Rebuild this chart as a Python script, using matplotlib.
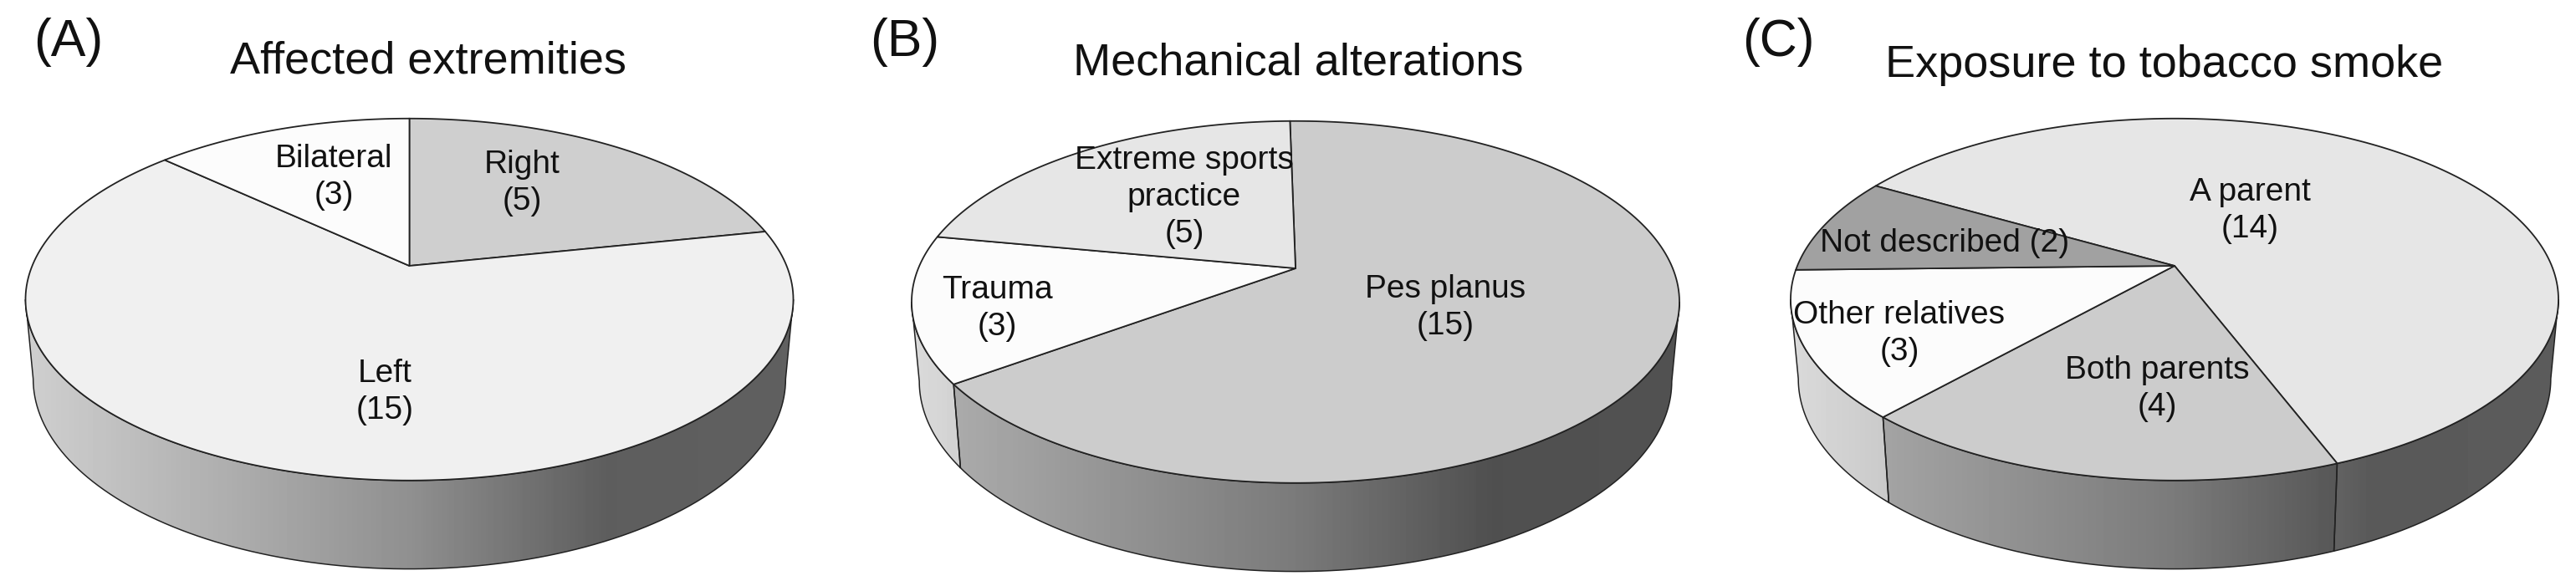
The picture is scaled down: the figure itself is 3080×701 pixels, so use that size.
import numpy as np
import matplotlib
matplotlib.use("Agg")
import matplotlib.pyplot as plt
from matplotlib.patches import Polygon

plt.rcParams['font.family'] = ['Liberation Sans', 'DejaVu Sans']

# Data, clockwise from the first slice
titles = ["Affected extremities", "Mechanical alterations", "Exposure to tobacco smoke"]
panel_tags = ["(A)", "(B)", "(C)"]

names_a = ["Right", "Left", "Bilateral"]
values_a = [5, 15, 3]
names_b = ["Pes planus", "Trauma", "Extreme sports\npractice"]
values_b = [15, 3, 5]
names_c = ["A parent", "Both parents", "Other relatives", "Not described"]
values_c = [14, 4, 3, 2]

# Slice greys (top face)
greys_a = [0.81, 0.94, 0.99]
greys_b = [0.80, 0.99, 0.90]
greys_c = [0.90, 0.80, 0.99, 0.63]

# Layout, in pixels of the 3080x701 picture
start_angles = [0, -1, -60]
apex_x = [489.5, 1549, 2600]
apex_y = [318, 321, 318]
rx_persp = 451
ry_persp = 209
k_persp = 0.186
side_shift = 93
side_sx = 0.98
side_sy = 1.05
vis_from, vis_to = 100.7, 259.3  # part of the rim seen from the front

title_pos = [(512, 88), (1552, 90), (2588, 92)]
tag_pos = [(82, 67), (1082, 67), (2126, 67)]
label_pos_a = [(624, 219), (460, 469), (399, 212)]
label_pos_b = [(1728, 368), (1192, 369), (1416, 236)]
label_pos_c = [(2690, 252), (2579, 465), (2271, 399), (2325, 291)]


def rim(theta_deg):
    t = np.radians(theta_deg)
    w = 1 + k_persp * np.cos(t)
    return rx_persp * np.sin(t) / w, -ry_persp * np.cos(t) / w


def draw_pie(ax, idx, values, names, greys, label_pos):
    cx, cy = apex_x[idx], apex_y[idx]
    edges = start_angles[idx] + np.cumsum([0] + values) / sum(values) * 360

    # side first, the top covers whatever is left over
    for i in range(len(values)):
        a = max(edges[i], vis_from)
        b = min(edges[i + 1], vis_to)
        # a slice may also reach the front through the wrap past 360
        if b <= a and edges[i + 1] - 360 > vis_from:
            a, b = vis_from, min(edges[i + 1] - 360, vis_to)
        if b <= a:
            continue
        th = np.linspace(a, b, 120)
        u, v = rim(th)
        top = np.column_stack([cx + u, cy + v])
        low = np.column_stack([cx + u * side_sx, cy + side_shift + v * side_sy])
        poly = Polygon(np.vstack([top, low[::-1]]), closed=True, fc="none", ec="#222222", lw=1.1, zorder=3)
        ax.add_patch(poly)
        # left to right shading across the whole pie
        xs = np.linspace(0, 1, 300)
        shade = np.interp(xs, [0, 0.5, 0.75, 1], [0.87, 0.60, 0.39, 0.40]) * greys[i]
        x0, x1 = cx - 470, cx + 470
        im = ax.imshow(shade[np.newaxis, :], extent=(x0, x1, 701, 0), cmap="gray", vmin=0, vmax=1,
                       aspect="auto", zorder=2)
        im.set_clip_path(poly)

    for i in range(len(values)):
        u, v = rim(np.linspace(edges[i], edges[i + 1], 200))
        pts = np.vstack([[cx, cy], np.column_stack([cx + u, cy + v])])
        ax.add_patch(Polygon(pts, closed=True, fc=str(greys[i]), ec="#222222", lw=1.3, zorder=4))

    for i in range(len(values)):
        x, y = label_pos[i]
        name = names[i]
        txt = f"{name} ({values[i]})" if name == "Not described" else f"{name}\n({values[i]})"
        ax.text(x, y, txt, ha="center", va="center", fontsize=28, linespacing=1.3, color="#111111", zorder=5)

    ax.text(title_pos[idx][0], title_pos[idx][1], titles[idx], ha="center", va="baseline", fontsize=39, color="#111111")
    ax.text(tag_pos[idx][0], tag_pos[idx][1], panel_tags[idx], ha="center", va="baseline", fontsize=45, color="#111111")


def main():
    fig = plt.figure(figsize=(3080 / 100, 701 / 100), dpi=100)
    ax = fig.add_axes([0, 0, 1, 1])

    draw_pie(ax, 0, values_a, names_a, greys_a, label_pos_a)
    draw_pie(ax, 1, values_b, names_b, greys_b, label_pos_b)
    draw_pie(ax, 2, values_c, names_c, greys_c, label_pos_c)

    ax.set_xlim(0, 3080)
    ax.set_ylim(701, 0)
    ax.axis("off")
    fig.savefig("out.png", dpi=100, facecolor="white")


if __name__ == "__main__":
    main()
